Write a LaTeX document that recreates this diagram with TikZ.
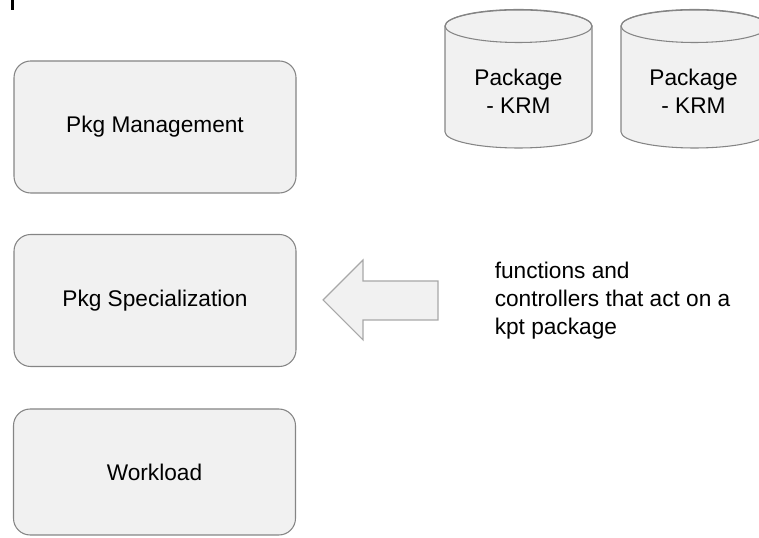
\documentclass[tikz,border=0pt]{standalone}
\usepackage{fontspec}
\setmainfont{Liberation Sans}
\definecolor{edgegray}{HTML}{858585}
\definecolor{arrowgray}{HTML}{A8A8A8}
\definecolor{boxfill}{HTML}{F1F1F1}
\tikzset{
  layer/.style={draw=edgegray, fill=boxfill, line width=0.8pt, rounded corners=12.5pt,
    minimum width=211.5pt, minimum height=99pt, inner sep=0pt},
  drumtext/.style={align=center, inner sep=0pt},
}
\begin{document}
\begin{tikzpicture}[x=0.75pt, y=0.75pt, font=\fontsize{17}{21}\selectfont]
            \useasboundingbox (0,0) rectangle (759,538);
            \fill[black] (11,528) rectangle (14,538);
            \node[layer] (mgmt) at (155,411) {Pkg Management};
            \node[layer] (spec) at (155,237.5) {Pkg Specialization};
            \node[layer, minimum height=94.5pt] (workload) at (154.5,66) {Workload};
            % package drums
            \path[draw=edgegray, fill=boxfill, line width=0.8pt] (445,512) -- (445,406) arc (180:360:73.5 and 16) -- (592,512) arc (0:180:73.5 and 16) -- cycle;
            \path[draw=edgegray, line width=0.8pt] (518.5,512) ellipse (73.5 and 16.5);
            \path[draw=edgegray, fill=boxfill, line width=0.8pt] (621,512) -- (621,406) arc (180:360:73.5 and 16) -- (768,512) arc (0:180:73.5 and 16) -- cycle;
            \path[draw=edgegray, line width=0.8pt] (694.5,512) ellipse (73.5 and 16.5);
            \node[drumtext] (pkgA) at (518.5,447) {Package\\- KRM};
            \node[drumtext] (pkgB) at (693.5,447) {Package\\- KRM};
            % block arrow
            \path[draw=arrowgray, fill=boxfill, line width=0.8pt] (323,238) -- (363,278) -- (363,257) -- (438,257) -- (438,218) -- (363,218) -- (363,198) -- cycle;
            \node[anchor=west, align=left, inner sep=0pt] (note) at (494.5,237) {functions and\\controllers that act on a\\kpt package};
        \end{tikzpicture}
\end{document}
